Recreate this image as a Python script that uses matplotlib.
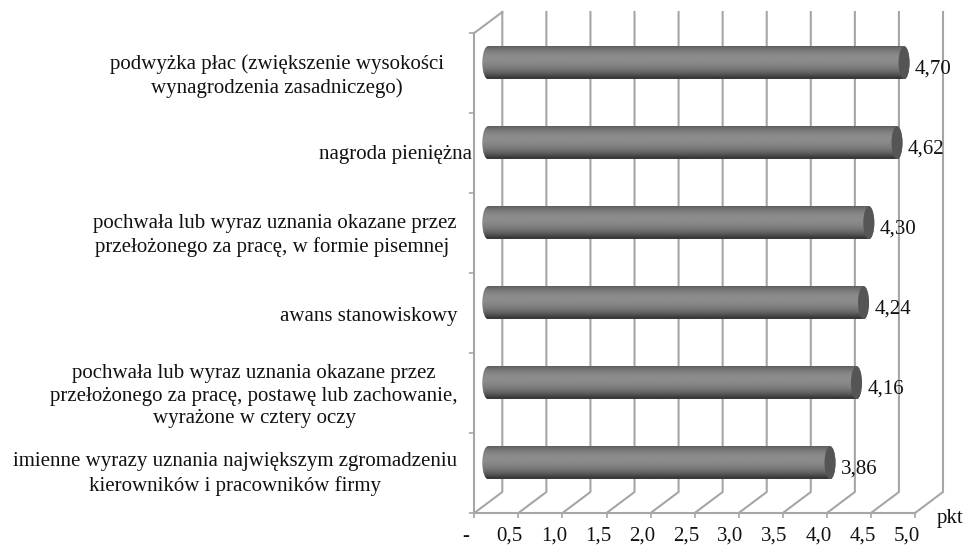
import numpy as np
import matplotlib
matplotlib.use('Agg')
import matplotlib.pyplot as plt
from matplotlib.patches import Ellipse, PathPatch
from matplotlib.path import Path
from matplotlib.transforms import ScaledTranslation

plt.rcParams['font.family'] = ['Liberation Serif', 'DejaVu Serif']

labels = ['imienne wyrazy uznania największym zgromadzeniu\nkierowników i pracowników firmy',
          'pochwała lub wyraz uznania okazane przez\nprzełożonego za pracę, postawę lub zachowanie,\nwyrażone w cztery oczy',
          'awans stanowiskowy',
          'pochwała lub wyraz uznania okazane przez\nprzełożonego za pracę, w formie pisemnej ',
          'nagroda pieniężna',
          'podwyżka płac (zwiększenie wysokości\nwynagrodzenia zasadniczego)']
values = [3.86, 4.16, 4.24, 4.30, 4.62, 4.70]
value_labels = ['3,86', '4,16', '4,24', '4,30', '4,62', '4,70']
x_ticks = [0, 0.5, 1, 1.5, 2, 2.5, 3, 3.5, 4, 4.5, 5]
x_ticklabels = ['-', '0,5', '1,0', '1,5', '2,0', '2,5', '3,0', '3,5', '4,0', '4,5', '5,0']

W, H = 966, 545
left, right, bottom, top = 474.3, 915.0, 513.0, 33.0
grid_col = '#a6a6a6'
fs = 15

fig = plt.figure(figsize=(W / 100, H / 100), dpi=100)
ax = fig.add_axes([left / W, 1 - bottom / H, (right - left) / W, (bottom - top) / H])

# depth of the fake 3d box in data units
ux = (right - left) / 5
uy = (bottom - top) / 6
dx = 28 / ux
dy = 21 / uy

for t in x_ticks:
    ax.plot([t, t + dx, t + dx], [0, dy, 6 + dy], color=grid_col, lw=1.5, clip_on=False, zorder=1)
ax.plot([0, dx], [6, 6 + dy], color=grid_col, lw=1.5, clip_on=False, zorder=1)

# cylinders
grad = np.array([0.38, 0.45, 0.50, 0.54, 0.55, 0.55, 0.53, 0.50, 0.46, 0.40, 0.32, 0.22])[:, None]
rx_l = 6.0 / ux
rx_r = 5.5 / ux
half = 16.7 / uy
for i, v in enumerate(values):
    yc = i + 0.5 + dy / 2 - 0.2 / uy
    x0 = dx / 2
    x1 = v + dx / 2 + 1.5 / ux
    k = 0.5523
    verts = [(x0, yc - half),
             (x1, yc - half),
             (x1 + k * rx_r, yc - half), (x1 + rx_r, yc - k * half), (x1 + rx_r, yc),
             (x1 + rx_r, yc + k * half), (x1 + k * rx_r, yc + half), (x1, yc + half),
             (x0, yc + half),
             (x0 - k * rx_l, yc + half), (x0 - rx_l, yc + k * half), (x0 - rx_l, yc),
             (x0 - rx_l, yc - k * half), (x0 - k * rx_l, yc - half), (x0, yc - half),
             (x0, yc - half)]
    codes = [Path.MOVETO, Path.LINETO] + [Path.CURVE4] * 6 + [Path.LINETO] + [Path.CURVE4] * 6 + [Path.CLOSEPOLY]
    patch = PathPatch(Path(verts, codes), fc='none', ec='none', transform=ax.transData)
    ax.add_patch(patch)
    im = ax.imshow(grad, cmap='gray', vmin=0, vmax=1, aspect='auto', interpolation='bilinear',
                   extent=(x0 - rx_l, x1 + rx_r, yc - half, yc + half), zorder=3, origin='upper')
    im.set_clip_path(patch)
    ax.add_patch(Ellipse((x1, yc), 2 * rx_r, 2 * half * 0.98, fc='#555555', ec='none', zorder=4))
    ax.annotate(value_labels[i], (x1, yc), xytext=(11, -6), textcoords='offset pixels',
                fontsize=fs, va='center', ha='left', color='#111111', zorder=5, annotation_clip=False)

ax.set_xlim(0, 5)
ax.set_ylim(0, 6)
for s in ['top', 'right']:
    ax.spines[s].set_visible(False)
for s in ['left', 'bottom']:
    ax.spines[s].set_color(grid_col)
    ax.spines[s].set_linewidth(1.5)

ax.set_xticks(x_ticks)
ax.set_xticklabels(x_ticklabels, fontsize=fs, color='#111111')
ax.set_yticks(range(7))
ax.set_yticklabels([])
ax.tick_params(axis='both', color=grid_col, width=1.2, length=3.5)
ax.tick_params(axis='x', pad=6.5)
shift = ScaledTranslation(-8.5 / 100, 0, fig.dpi_scale_trans)
for lab in ax.get_xticklabels():
    lab.set_transform(lab.get_transform() + shift)

# category labels, right edge given in pixels from the left wall
right_edges = [457, 458, 457, 457, 472, 444]
y_nudge = [-1, -3, -3, -2.5, -1, -3]
for i, lab in enumerate(labels):
    ax.annotate(lab, (0, i + 0.5), xytext=(right_edges[i] - left, y_nudge[i]), textcoords='offset pixels',
                fontsize=fs, ha='right', va='center', multialignment='center', linespacing=1.28,
                color='#111111', annotation_clip=False)

ax.annotate('pkt', (5, 0), xytext=(22, -6), textcoords='offset pixels', fontsize=fs,
            ha='left', va='center', color='#111111', annotation_clip=False)

fig.savefig('out.png', dpi=100)
